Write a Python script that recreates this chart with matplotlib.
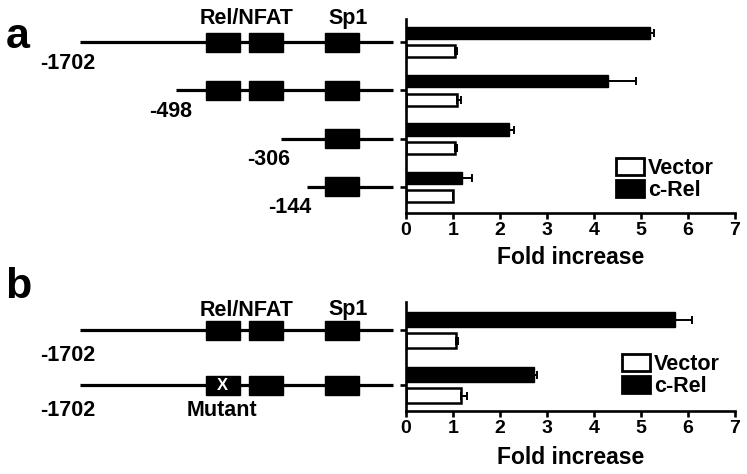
import matplotlib
matplotlib.use('Agg')
import matplotlib.pyplot as plt
from matplotlib.patches import Rectangle
import numpy as np

plt.rcParams['font.family'] = ['Liberation Sans', 'DejaVu Sans']
plt.rcParams['font.weight'] = 'bold'

# ---------------- data ----------------
constructs_a = ['-1702', '-498', '-306', '-144']
vector_a = [1.05, 1.10, 1.05, 1.00]
vector_a_err = [0.05, 0.07, 0.05, 0.0]
crel_a = [5.20, 4.30, 2.20, 1.20]
crel_a_err = [0.08, 0.60, 0.10, 0.20]

constructs_b = ['-1702', '-1702']
mutant_label = 'Mutant'
vector_b = [1.07, 1.17]
vector_b_err = [0.04, 0.13]
crel_b = [5.72, 2.72]
crel_b_err = [0.37, 0.07]

xticks = [0, 1, 2, 3, 4, 5, 6, 7]
xlabel = 'Fold increase'
legend_labels = ['Vector', 'c-Rel']
site_labels = ['Rel/NFAT', 'Sp1']

# ---------------- layout ----------------
W, H = 747, 474
fig = plt.figure(figsize=(W / 100, H / 100), dpi=100)

def px_axes(l, t, r, b):
    return fig.add_axes([l / W, 1 - b / H, (r - l) / W, (b - t) / H])

ax_a = px_axes(405.7, 19, 735, 213)
ax_b = px_axes(405.7, 301.7, 735, 411)

def style(ax, label_center_px):
    for s in ['top', 'right']:
        ax.spines[s].set_visible(False)
    for s in ['left', 'bottom']:
        ax.spines[s].set_linewidth(1.9)
    ax.set_xlim(0, 7)
    ax.set_xticks(xticks)
    ax.set_xticklabels([str(t) for t in xticks], fontsize=14, fontweight='bold')
    ax.tick_params(axis='x', width=1.9, length=4, pad=2.5)
    ax.tick_params(axis='y', width=1.9, length=4, labelleft=False)
    ax.set_xlabel(xlabel, fontsize=16.5, fontweight='bold')
    ax.xaxis.label.set_va('center')
    hpx = ax.get_position().height * H
    ax.xaxis.set_label_coords(0.5, -label_center_px / hpx)

err_kw = dict(ecolor='black', elinewidth=1.4, capsize=3.2, capthick=1.4)

def bars(ax, n, crel, crel_err, vec, vec_err, h, off, ylim):
    pos = np.arange(n)
    z = np.zeros(n)
    ax.barh(pos - off, crel, height=h, color='black', edgecolor='black', linewidth=1,
            xerr=[z, crel_err], error_kw=err_kw)
    ax.barh(pos + off, vec, height=h, color='white', edgecolor='black', linewidth=1.8,
            xerr=[z, vec_err], error_kw=err_kw)
    ax.set_yticks(pos)
    ax.set_ylim(*ylim)
    return pos

pos_a = bars(ax_a, len(crel_a), crel_a, crel_a_err, vector_a, vector_a_err,
             0.25, 0.19, (3.54, -0.48))
pos_b = bars(ax_b, len(crel_b), crel_b, crel_b_err, vector_b, vector_b_err,
             0.27, 0.19, (1.47, -0.52))
style(ax_a, 45)
style(ax_b, 47)

handles = [Rectangle((0, 0), 1, 1, fc='white', ec='black', lw=2),
           Rectangle((0, 0), 1, 1, fc='black', ec='black', lw=2)]
for ax, (lx, ly) in [(ax_a, (616, 158)), (ax_b, (622, 354))]:
    ax.legend(handles, legend_labels, loc='upper left',
              bbox_to_anchor=(lx / W, 1 - ly / H), bbox_transform=fig.transFigure,
              frameon=False, borderpad=0, borderaxespad=0, handlelength=1.3,
              handleheight=0.85, handletextpad=0.2, labelspacing=0.05,
              prop=dict(weight='bold', size=15.5))

# ---------------- promoter schematics ----------------
ov = fig.add_axes([0, 0, 1, 1])
ov.set_xlim(0, W)
ov.set_ylim(H, 0)
ov.axis('off')
ov.set_zorder(-1)

fig.canvas.draw()

def row_y(ax, y):
    return H - ax.transData.transform((0, y))[1]

line_end = 393
box_w = 34
box_h = 19
rel_boxes = [205.5, 249]
sp1_box = 324.5
label_fs = 15.5

def construct(y, x0, rel=True, mutant=False):
    ov.plot([x0, line_end], [y, y], color='black', lw=2.3, solid_capstyle='butt')
    boxes = (rel_boxes if rel else []) + [sp1_box]
    for i, bx in enumerate(boxes):
        ov.add_patch(Rectangle((bx, y - box_h / 2), box_w, box_h, fc='black', ec='black'))
        if mutant and i == 0:
            ov.text(bx + box_w / 2, y + 0.5, 'X', color='white', fontsize=12,
                    fontweight='bold', ha='center', va='center')

# panel a
starts_a = [80, 176, 281, 307]
label_x_a = [68, 171, 269, 290]
has_rel_a = [True, True, False, False]
for i, name in enumerate(constructs_a):
    y = row_y(ax_a, pos_a[i])
    construct(y, starts_a[i], rel=has_rel_a[i])
    ov.text(label_x_a[i], y + 21, name, fontsize=label_fs, fontweight='bold',
            ha='center', va='center')

# panel b
for i, name in enumerate(constructs_b):
    y = row_y(ax_b, pos_b[i])
    construct(y, 80, rel=True, mutant=(i == 1))
    ov.text(68, y + 25, name, fontsize=label_fs, fontweight='bold',
            ha='center', va='center')
    if i == 1:
        ov.text(222, y + 25, mutant_label, fontsize=label_fs, fontweight='bold',
                ha='center', va='center')

for ytxt in [18, 310]:
    ov.text(247, ytxt, site_labels[0], fontsize=label_fs, fontweight='bold',
            ha='center', va='center')
    ov.text(348, ytxt, site_labels[1], fontsize=label_fs, fontweight='bold',
            ha='center', va='center')

ov.text(18, 37, 'a', fontsize=31, fontweight='bold', ha='center', va='center')
ov.text(18, 287, 'b', fontsize=31, fontweight='bold', ha='center', va='center')

fig.savefig('out.png', dpi=100)
